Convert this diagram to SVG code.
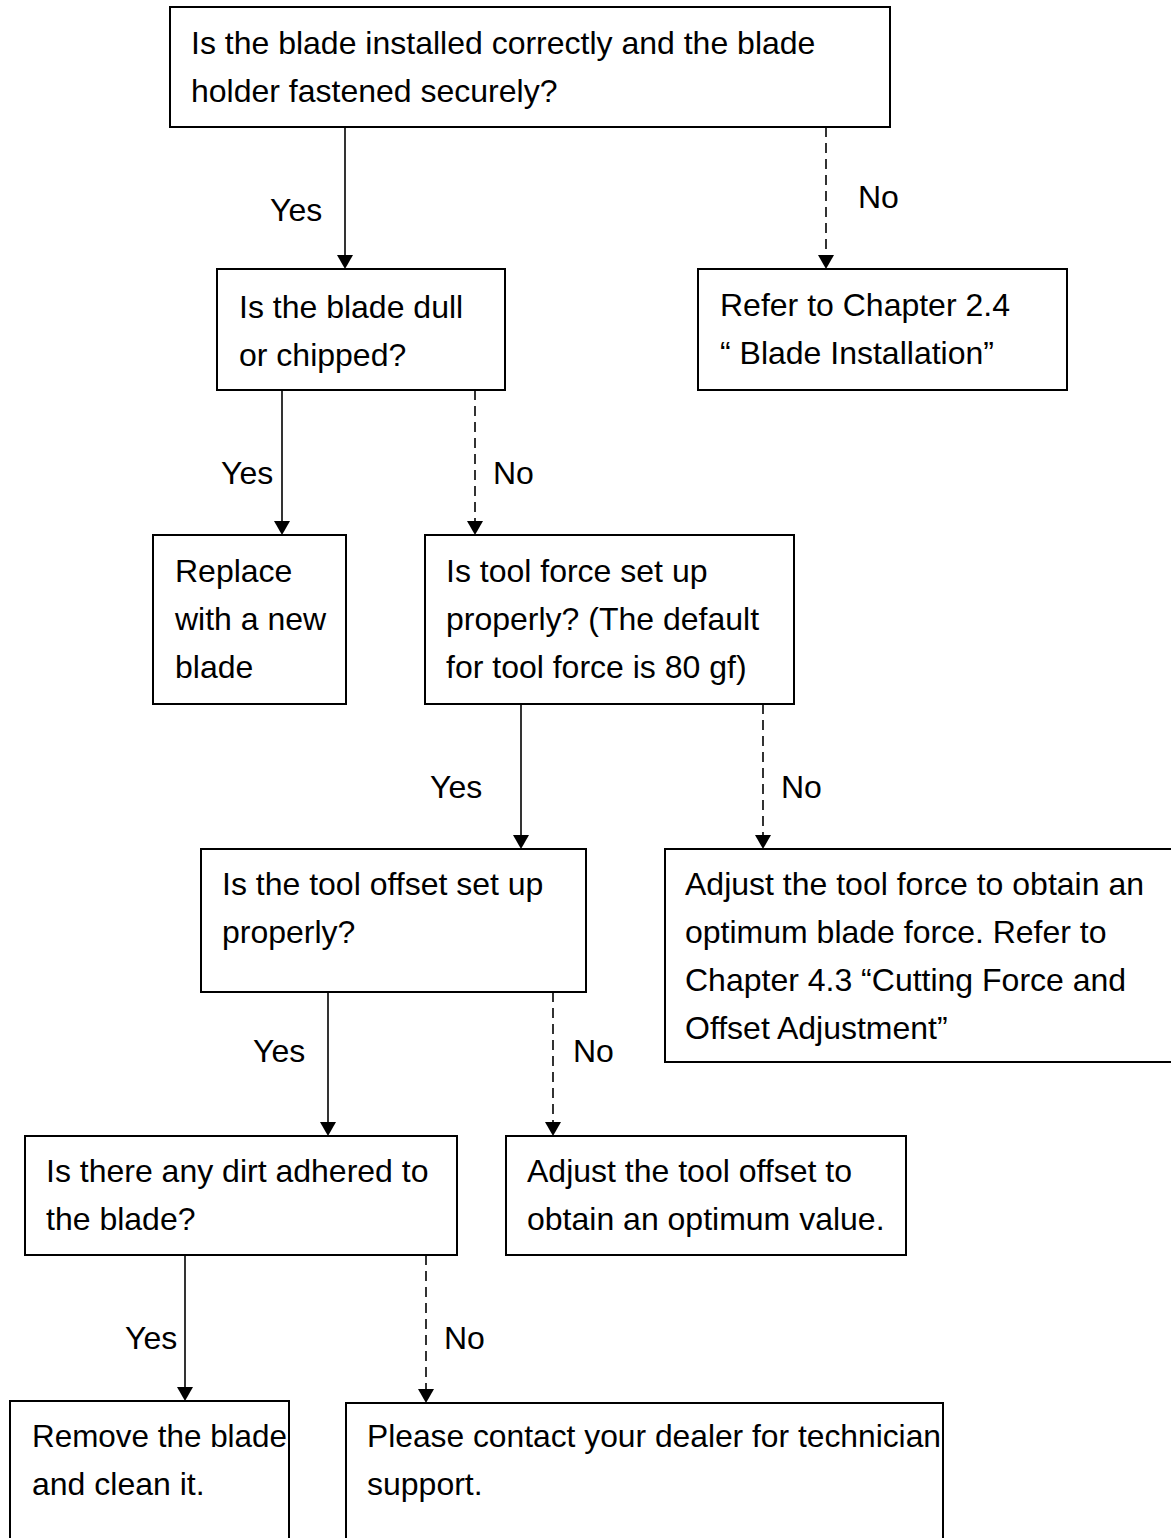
<svg xmlns="http://www.w3.org/2000/svg" width="1171" height="1538" viewBox="0 0 1171 1538">
<style>
.box{fill:#fff;stroke:#000;stroke-width:2}
.t{font-family:"Liberation Sans",Arial,sans-serif;font-size:32px;fill:#000}
.c{stroke:#000;stroke-width:1.6;fill:none}
.d{stroke-dasharray:10 6}
.ah{fill:#000}
</style>
<rect width="1171" height="1538" fill="#fff"/>
<g id="connectors">
<line class="c" x1="345" y1="127" x2="345" y2="255"/>
<path class="ah" d="M337,255 L353,255 L345,269 Z"/>
<line class="c d" x1="826" y1="127" x2="826" y2="255"/>
<path class="ah" d="M818,255 L834,255 L826,269 Z"/>
<line class="c" x1="282" y1="390" x2="282" y2="521"/>
<path class="ah" d="M274,521 L290,521 L282,535 Z"/>
<line class="c d" x1="475" y1="390" x2="475" y2="521"/>
<path class="ah" d="M467,521 L483,521 L475,535 Z"/>
<line class="c" x1="521" y1="704" x2="521" y2="835"/>
<path class="ah" d="M513,835 L529,835 L521,849 Z"/>
<line class="c d" x1="763" y1="704" x2="763" y2="835"/>
<path class="ah" d="M755,835 L771,835 L763,849 Z"/>
<line class="c" x1="328" y1="992" x2="328" y2="1122"/>
<path class="ah" d="M320,1122 L336,1122 L328,1136 Z"/>
<line class="c d" x1="553" y1="992" x2="553" y2="1122"/>
<path class="ah" d="M545,1122 L561,1122 L553,1136 Z"/>
<line class="c" x1="185" y1="1255" x2="185" y2="1387"/>
<path class="ah" d="M177,1387 L193,1387 L185,1401 Z"/>
<line class="c d" x1="426" y1="1255" x2="426" y2="1389"/>
<path class="ah" d="M418,1389 L434,1389 L426,1403 Z"/>
<text class="t" x="270" y="221">Yes</text>
<text class="t" x="858" y="208">No</text>
<text class="t" x="221" y="484">Yes</text>
<text class="t" x="493" y="484">No</text>
<text class="t" x="430" y="798">Yes</text>
<text class="t" x="781" y="798">No</text>
<text class="t" x="253" y="1062">Yes</text>
<text class="t" x="573" y="1062">No</text>
<text class="t" x="125" y="1349">Yes</text>
<text class="t" x="444" y="1349">No</text>
</g>
<g id="n1">
<rect class="box" x="170" y="7" width="720" height="120"/>
<text class="t" x="191" y="54">Is the blade installed correctly and the blade</text>
<text class="t" x="191" y="102">holder fastened securely?</text>
</g>
<g id="n2">
<rect class="box" x="217" y="269" width="288" height="121"/>
<text class="t" x="239" y="318">Is the blade dull</text>
<text class="t" x="239" y="366">or chipped?</text>
</g>
<g id="n3">
<rect class="box" x="698" y="269" width="369" height="121"/>
<text class="t" x="720" y="316">Refer to Chapter 2.4</text>
<text class="t" x="720" y="364" xml:space="preserve">“ Blade Installation”</text>
</g>
<g id="n4">
<rect class="box" x="153" y="535" width="193" height="169"/>
<text class="t" x="175" y="582">Replace</text>
<text class="t" x="175" y="630">with a new</text>
<text class="t" x="175" y="678">blade</text>
</g>
<g id="n5">
<rect class="box" x="425" y="535" width="369" height="169"/>
<text class="t" x="446" y="582">Is tool force set up</text>
<text class="t" x="446" y="630">properly? (The default</text>
<text class="t" x="446" y="678">for tool force is 80 gf)</text>
</g>
<g id="n6">
<rect class="box" x="201" y="849" width="385" height="143"/>
<text class="t" x="222" y="895">Is the tool offset set up</text>
<text class="t" x="222" y="943">properly?</text>
</g>
<g id="n7">
<rect class="box" x="665" y="849" width="515" height="213"/>
<text class="t" x="685" y="895">Adjust the tool force to obtain an</text>
<text class="t" x="685" y="943">optimum blade force. Refer to</text>
<text class="t" x="685" y="991">Chapter 4.3 “Cutting Force and</text>
<text class="t" x="685" y="1039">Offset Adjustment”</text>
</g>
<g id="n8">
<rect class="box" x="25" y="1136" width="432" height="119"/>
<text class="t" x="46" y="1182">Is there any dirt adhered to</text>
<text class="t" x="46" y="1230">the blade?</text>
</g>
<g id="n9">
<rect class="box" x="506" y="1136" width="400" height="119"/>
<text class="t" x="527" y="1182">Adjust the tool offset to</text>
<text class="t" x="527" y="1230">obtain an optimum value.</text>
</g>
<g id="n10">
<rect class="box" x="10" y="1401" width="279" height="150"/>
<text class="t" x="32" y="1447" textLength="255" lengthAdjust="spacingAndGlyphs">Remove the blade</text>
<text class="t" x="32" y="1495">and clean it.</text>
</g>
<g id="n11">
<rect class="box" x="346" y="1403" width="597" height="150"/>
<text class="t" x="367" y="1447" textLength="574" lengthAdjust="spacingAndGlyphs">Please contact your dealer for technician</text>
<text class="t" x="367" y="1495">support.</text>
</g>
</svg>
